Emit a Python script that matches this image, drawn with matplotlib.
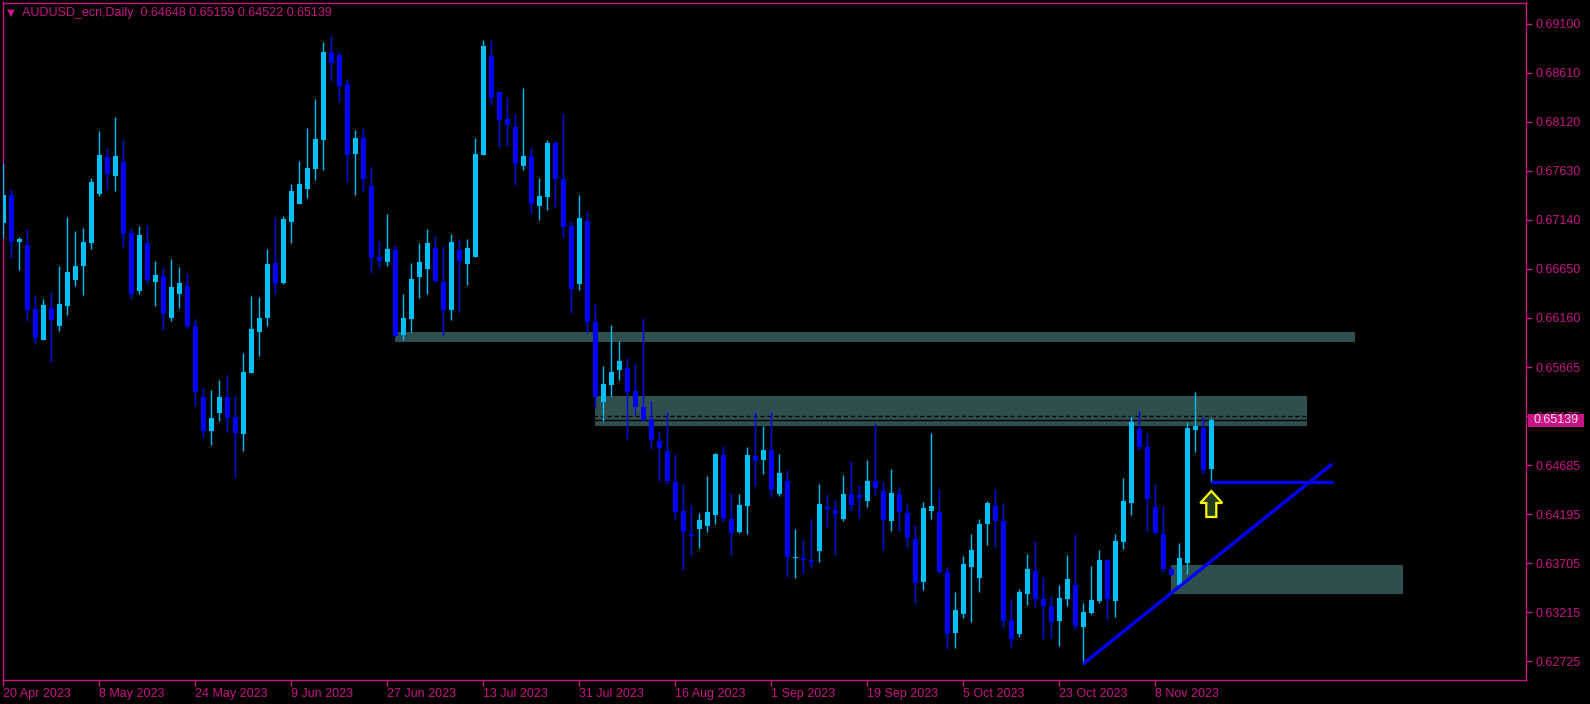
import numpy as np
import matplotlib
matplotlib.use('Agg')
import matplotlib.pyplot as plt
from matplotlib.patches import Rectangle, Polygon
import matplotlib.transforms as mtransforms

# AUDUSD_ecn daily candles, 20 Apr 2023 -> 17 Nov 2023 (bar index 0..151)
opens = [0.67113, 0.67390, 0.66923, 0.66890, 0.66250, 0.65943, 0.66260, 0.66083, 0.66283, 0.66543,
         0.66683, 0.66913, 0.67403, 0.67770, 0.67583, 0.67720, 0.67010, 0.66433, 0.66910, 0.66523,
         0.66580, 0.66163, 0.66403, 0.66480, 0.66080, 0.65370, 0.65030, 0.65213, 0.65370, 0.65170,
         0.65003, 0.65613, 0.66023, 0.66163, 0.66710, 0.66510, 0.67123, 0.67303, 0.67453, 0.67653,
         0.67943, 0.68820, 0.68790, 0.68500, 0.67803, 0.67960, 0.67480, 0.66770, 0.66723, 0.66840,
         0.65993, 0.66153, 0.66573, 0.66653, 0.66860, 0.66520, 0.66243, 0.66840, 0.66703, 0.66773,
         0.67793, 0.68780, 0.68420, 0.68150, 0.68070, 0.67683, 0.67780, 0.67283, 0.67373, 0.67910,
         0.67550, 0.67083, 0.66503, 0.67130, 0.66120, 0.65323, 0.65493, 0.65643, 0.65660, 0.65430,
         0.65270, 0.65150, 0.64930, 0.64830, 0.64520, 0.64230, 0.64000, 0.64053, 0.64083, 0.64193,
         0.64790, 0.64150, 0.64023, 0.64283, 0.64780, 0.64743, 0.64840, 0.64403, 0.64530, 0.63763,
         0.63760, 0.63740, 0.63830, 0.64270, 0.64240, 0.64153, 0.64400, 0.64390, 0.64333, 0.64530,
         0.64430, 0.64133, 0.64400, 0.64210, 0.63950, 0.63523, 0.64233, 0.64220, 0.63620, 0.63013,
         0.63203, 0.63673, 0.63563, 0.64103, 0.64280, 0.64130, 0.63140, 0.63003, 0.63403, 0.63630,
         0.63350, 0.63280, 0.63133, 0.63353, 0.63490, 0.63073, 0.63213, 0.63333, 0.63740, 0.63333,
         0.63923, 0.64313, 0.65050, 0.64870, 0.64270, 0.64000, 0.63647, 0.63493, 0.63713, 0.65043,
         0.65063, 0.64648]
highs = [0.67707, 0.67450, 0.66970, 0.67050, 0.66390, 0.66350, 0.66420, 0.66680, 0.67170, 0.67030,
         0.67060, 0.67560, 0.68030, 0.67860, 0.68170, 0.67950, 0.67060, 0.67080, 0.67090, 0.66730,
         0.66670, 0.66750, 0.66670, 0.66610, 0.66150, 0.65460, 0.65440, 0.65540, 0.65590, 0.65390,
         0.65810, 0.66380, 0.66370, 0.66850, 0.67170, 0.67180, 0.67500, 0.67730, 0.68060, 0.68350,
         0.68920, 0.68990, 0.68820, 0.68550, 0.68040, 0.68060, 0.67670, 0.66930, 0.67200, 0.66890,
         0.66400, 0.66710, 0.66910, 0.67050, 0.66980, 0.66880, 0.67000, 0.66950, 0.66950, 0.67960,
         0.68940, 0.68940, 0.68420, 0.68370, 0.68200, 0.68460, 0.67870, 0.67560, 0.67940, 0.67930,
         0.68200, 0.67130, 0.67390, 0.67230, 0.66300, 0.65680, 0.66090, 0.65930, 0.65760, 0.65710,
         0.66160, 0.65330, 0.65030, 0.65220, 0.64803, 0.64503, 0.64290, 0.64210, 0.64580, 0.64813,
         0.64883, 0.64410, 0.64400, 0.64873, 0.65223, 0.65083, 0.65223, 0.64803, 0.64643, 0.64050,
         0.63950, 0.64150, 0.64500, 0.64400, 0.64340, 0.64590, 0.64730, 0.64490, 0.64740, 0.65110,
         0.64520, 0.64650, 0.64470, 0.64300, 0.64093, 0.64320, 0.65010, 0.64450, 0.63670, 0.63420,
         0.63780, 0.64000, 0.64150, 0.64330, 0.64450, 0.64310, 0.63350, 0.63450, 0.63803, 0.63930,
         0.63573, 0.63383, 0.63493, 0.63793, 0.64003, 0.63313, 0.63683, 0.63843, 0.63747, 0.64003,
         0.64563, 0.65183, 0.65230, 0.65010, 0.64503, 0.64283, 0.63673, 0.63913, 0.65123, 0.65420,
         0.65173, 0.65159]
lows = [0.66963, 0.66763, 0.66643, 0.66130, 0.65903, 0.65943, 0.65723, 0.66030, 0.66190, 0.66483,
        0.66390, 0.66850, 0.67383, 0.67450, 0.67430, 0.66870, 0.66350, 0.66403, 0.66503, 0.66283,
        0.66043, 0.66133, 0.66263, 0.66063, 0.65283, 0.64973, 0.64890, 0.65133, 0.65023, 0.64573,
        0.64833, 0.65613, 0.65783, 0.66083, 0.66403, 0.66503, 0.66913, 0.67303, 0.67363, 0.67543,
        0.67643, 0.68533, 0.68323, 0.67523, 0.67393, 0.67433, 0.66613, 0.66663, 0.66683, 0.65973,
        0.65943, 0.66023, 0.66363, 0.66403, 0.66523, 0.65983, 0.66143, 0.66223, 0.66493, 0.66773,
        0.67793, 0.68293, 0.67863, 0.67883, 0.67493, 0.67643, 0.67213, 0.67143, 0.67243, 0.67273,
        0.66973, 0.66213, 0.66443, 0.66013, 0.65263, 0.65130, 0.65383, 0.65543, 0.64950, 0.65193,
        0.65133, 0.64853, 0.64533, 0.64503, 0.64153, 0.63643, 0.63783, 0.63863, 0.64023, 0.64103,
        0.64123, 0.63793, 0.64013, 0.64003, 0.64483, 0.64603, 0.64373, 0.64383, 0.63573, 0.63563,
        0.63610, 0.63663, 0.63723, 0.64073, 0.63793, 0.64133, 0.64233, 0.64163, 0.64273, 0.64393,
        0.63843, 0.64033, 0.64033, 0.63863, 0.63303, 0.63443, 0.64153, 0.63613, 0.62853, 0.62863,
        0.63163, 0.63123, 0.63423, 0.63893, 0.63873, 0.63063, 0.62867, 0.62973, 0.63293, 0.63273,
        0.62953, 0.62963, 0.62883, 0.63283, 0.63053, 0.62703, 0.63203, 0.63313, 0.63143, 0.63173,
        0.63853, 0.64193, 0.64843, 0.64033, 0.64003, 0.63623, 0.63593, 0.63493, 0.63597, 0.64823,
        0.64603, 0.64522]
closes = [0.67390, 0.66923, 0.66950, 0.66243, 0.65963, 0.66290, 0.66143, 0.66300, 0.66620, 0.66680,
          0.66920, 0.67520, 0.67790, 0.67603, 0.67780, 0.67003, 0.66403, 0.66990, 0.66543, 0.66590,
          0.66203, 0.66470, 0.66510, 0.66083, 0.65423, 0.65030, 0.65160, 0.65370, 0.65163, 0.65013,
          0.65620, 0.66050, 0.66160, 0.66700, 0.66503, 0.67150, 0.67430, 0.67500, 0.67660, 0.67950,
          0.68820, 0.68710, 0.68483, 0.67793, 0.67960, 0.67553, 0.66763, 0.66733, 0.66850, 0.65983,
          0.66160, 0.66550, 0.66720, 0.66910, 0.66533, 0.66243, 0.66920, 0.66733, 0.66860, 0.67800,
          0.68880, 0.68363, 0.68143, 0.68093, 0.67703, 0.67780, 0.67303, 0.67380, 0.67910, 0.67553,
          0.67073, 0.66453, 0.67160, 0.66123, 0.65373, 0.65500, 0.65620, 0.65730, 0.65423, 0.65273,
          0.65143, 0.64943, 0.64863, 0.64530, 0.64223, 0.64023, 0.63983, 0.64140, 0.64220, 0.64803,
          0.64163, 0.64013, 0.64290, 0.64790, 0.64733, 0.64840, 0.64443, 0.64610, 0.63773, 0.63773,
          0.63743, 0.63723, 0.64300, 0.64250, 0.64203, 0.64400, 0.64290, 0.64363, 0.64530, 0.64463,
          0.64143, 0.64410, 0.64223, 0.63963, 0.63513, 0.64260, 0.64280, 0.63623, 0.63003, 0.63240,
          0.63700, 0.63840, 0.64100, 0.64310, 0.64133, 0.63133, 0.62953, 0.63420, 0.63650, 0.63353,
          0.63283, 0.63123, 0.63360, 0.63550, 0.63083, 0.63220, 0.63343, 0.63740, 0.63353, 0.63930,
          0.64330, 0.65123, 0.64873, 0.64353, 0.64013, 0.63653, 0.63593, 0.63760, 0.65060, 0.65080,
          0.64643, 0.65139]

date_ticks = [0, 12, 24, 36, 48, 60, 72, 84, 96, 108, 120, 132, 144]
date_labels = ['20 Apr 2023', '8 May 2023', '24 May 2023', '9 Jun 2023', '27 Jun 2023',
               '13 Jul 2023', '31 Jul 2023', '16 Aug 2023', '1 Sep 2023', '19 Sep 2023',
               '5 Oct 2023', '23 Oct 2023', '8 Nov 2023']
price_ticks = [0.69100, 0.68610, 0.68120, 0.67630, 0.67140, 0.66650, 0.66160, 0.65665,
               0.65175, 0.64685, 0.64195, 0.63705, 0.63215, 0.62725]

# drawn objects: zones (start bar, end bar, low, high), trendline, level, arrow
zone_start = [49, 74, 146]
zone_end = [169, 163, 175]
zone_low = [0.6592, 0.6508, 0.6340]
zone_high = [0.6602, 0.6538, 0.6369]
trend_bars = [135, 166.1]
trend_prices = [0.62703, 0.6470]
level_bars = [151, 166.2]
level_price = 0.64517
arrow_bar = 151
arrow_price = 0.6443
bid = 0.65139
ask_line = 0.6518
title = 'AUDUSD_ecn,Daily  0.64648 0.65159 0.64522 0.65139'

FG = '#C71585'
BULL = '#00BFFF'
BEAR = '#0000FF'
ZONE = '#2F4F4F'
FONT = ['Liberation Sans', 'DejaVu Sans']

W, H = 1590, 704
fig = plt.figure(figsize=(W / 100, H / 100), dpi=100, facecolor='black')
ax_l, ax_r, ax_t, ax_b = 2.5, 1526, 2.5, 680
ax = fig.add_axes([ax_l / W, (H - ax_b) / H, (ax_r - ax_l) / W, (ax_b - ax_t) / H])
ax.set_facecolor('black')

# pixel mapping: bar i center at x = 3.3 + 8 i ; price p at y = 24 + (0.691 - p) * 10000
ax.set_xlim((ax_l - 3.3) / 8, (ax_r - 3.3) / 8)
ax.set_ylim(0.691 - (ax_b - 24) / 10000, 0.691 + (24 - ax_t) / 10000)

o = np.array(opens); h = np.array(highs); l = np.array(lows); c = np.array(closes)
x = np.arange(len(o))
up = c >= o
cols = np.where(up, BULL, BEAR)

for s, e, lo, hi in zip(zone_start, zone_end, zone_low, zone_high):
    ax.add_patch(Rectangle((s, lo), e - s, hi - lo, facecolor=ZONE, edgecolor='none', zorder=1))

ax.axhline(ask_line, color='black', lw=1, ls=(0, (3, 2)), zorder=2)
ax.axhline(bid, color='black', lw=1, zorder=2)

ax.vlines(x, l, h, colors=cols, lw=1.0, zorder=3)
body_lo = np.minimum(o, c)
body_h = np.maximum(np.abs(c - o), 0.00008)
ax.bar(x, body_h, bottom=body_lo, width=0.62, color=cols, edgecolor='none', zorder=4)

ax.plot(trend_bars, trend_prices, color=BEAR, lw=2.4, zorder=5, solid_capstyle='butt')
ax.plot(level_bars, [level_price, level_price], color=BEAR, lw=2.4, zorder=5, solid_capstyle='butt')

# outlined up arrow below the last candle
hw, sw, hh, sl = 1.375, 0.625, 0.0012, 0.0014
arrow = [(arrow_bar, arrow_price), (arrow_bar + hw, arrow_price - hh), (arrow_bar + sw, arrow_price - hh),
         (arrow_bar + sw, arrow_price - hh - sl), (arrow_bar - sw, arrow_price - hh - sl),
         (arrow_bar - sw, arrow_price - hh), (arrow_bar - hw, arrow_price - hh)]
ax.add_patch(Polygon(arrow, closed=True, facecolor='#1f3a1f', edgecolor='#FFFF00', lw=1.6, zorder=6))

for sp in ax.spines.values():
    sp.set_color(FG)
    sp.set_linewidth(1)

ax.yaxis.tick_right()
ax.set_yticks(price_ticks)
ax.set_yticklabels(['%.5f' % p for p in price_ticks])
ax.set_xticks(date_ticks)
ax.set_xticklabels(date_labels, ha='left')
ax.tick_params(axis='both', colors=FG, length=4, width=1, labelsize=9)
ax.tick_params(axis='y', pad=3)
ax.tick_params(axis='x', pad=1.5)
for t in ax.get_xticklabels() + ax.get_yticklabels():
    t.set_family(FONT)

# current price box on the price scale
tr = mtransforms.blended_transform_factory(fig.transFigure, ax.transData)
ax.add_patch(Rectangle((1528 / W, bid - 0.00065), 56 / W, 0.0013, transform=tr, facecolor=FG,
                       edgecolor='none', clip_on=False, zorder=10))
ax.text(1533 / W, bid, '%.5f' % bid, transform=tr, color='#F4D8E8', fontsize=9, family=FONT,
        va='center', ha='left', zorder=11, clip_on=False)

fig.text(22 / W, 1 - 12.7 / H, title, color=FG, fontsize=9, family=FONT, va='center', ha='left')
fig.text(11 / W, 1 - 12.5 / H, '\u25bc', color=FG, fontsize=7.5, family=['DejaVu Sans'],
         va='center', ha='center')

fig.savefig('out.png', dpi=100, facecolor='black')
